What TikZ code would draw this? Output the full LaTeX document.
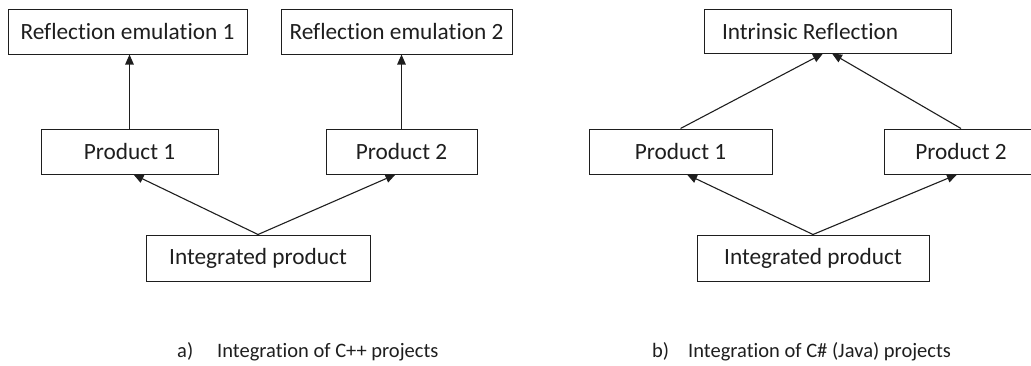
\documentclass[tikz,border=0pt]{standalone}
\usepackage{fontspec}
\setmainfont{Carlito}[Ligatures=NoCommon]
\usetikzlibrary{arrows.meta}
\definecolor{ink}{HTML}{1E1E1E}
\tikzset{
  box/.style={draw=ink, line width=1pt, rectangle, inner sep=0pt, text=ink,
    font=\fontsize{23.3}{28}\selectfont},
  conn/.style={draw=ink, line width=1.1pt, -{Triangle[length=10pt,width=8.5pt]}},
  captxt/.style={anchor=base west, inner sep=0pt, text=ink, font=\fontsize{20.5}{24}\selectfont}
}
\begin{document}
\begin{tikzpicture}[x=1pt,y=-1pt]
\useasboundingbox (0,0) rectangle (1031,365);
\clip (0,0) rectangle (1031,365);
% ---- left diagram
\node[box, minimum width=239pt, minimum height=45pt] (re1) at (127.5,31.5) {Reflection emulation 1};
\node[box, minimum width=231pt, minimum height=45pt] (re2) at (396.5,31.5) {Reflection emulation 2};
\node[box, minimum width=177pt, minimum height=45pt] (p1) at (129.5,151.5) {Product 1};
\node[box, minimum width=151pt, minimum height=45pt] (p2) at (401.5,151.5) {Product 2};
\node[box, minimum width=224pt, minimum height=46pt] (ip) at (258,258) {Integrated product};
\draw[conn] (p1.north) -- (p1.north |- re1.south);
\draw[conn] (p2.north) -- (p2.north |- re2.south);
\draw[conn] (ip.north) -- ([xshift=4pt]p1.south);
\draw[conn] (ip.north) -- ([xshift=-6pt]p2.south);
% ---- right diagram
\node[box, minimum width=247pt, minimum height=44pt, text width=211pt, align=flush left, inner xsep=18pt] (ir) at (827.5,31) {Intrinsic Reflection};
\node[box, minimum width=183pt, minimum height=45pt] (q1) at (680.5,151.5) {Product 1};
\node[box, minimum width=154pt, minimum height=45pt] (q2) at (961,151.5) {Product 2};
\node[box, minimum width=232pt, minimum height=46pt] (iq) at (813,258) {Integrated product};
\draw[conn] (q1.north) -- ([xshift=-4.5pt]ir.south);
\draw[conn] (q2.north) -- ([xshift=4.5pt]ir.south);
\draw[conn] (iq.north) -- ([xshift=6.5pt]q1.south);
\draw[conn] (iq.north) -- ([xshift=-4pt]q2.south);
% ---- captions
\node[captxt] (la) at (177,357) {a)};
\node[captxt] (lt) at (217,357) {Integration of C++ projects};
\node[captxt] (lb) at (652,357) {b)};
\node[captxt] (ltb) at (688,357) {Integration of C\# (Java) projects};
\end{tikzpicture}
\end{document}
